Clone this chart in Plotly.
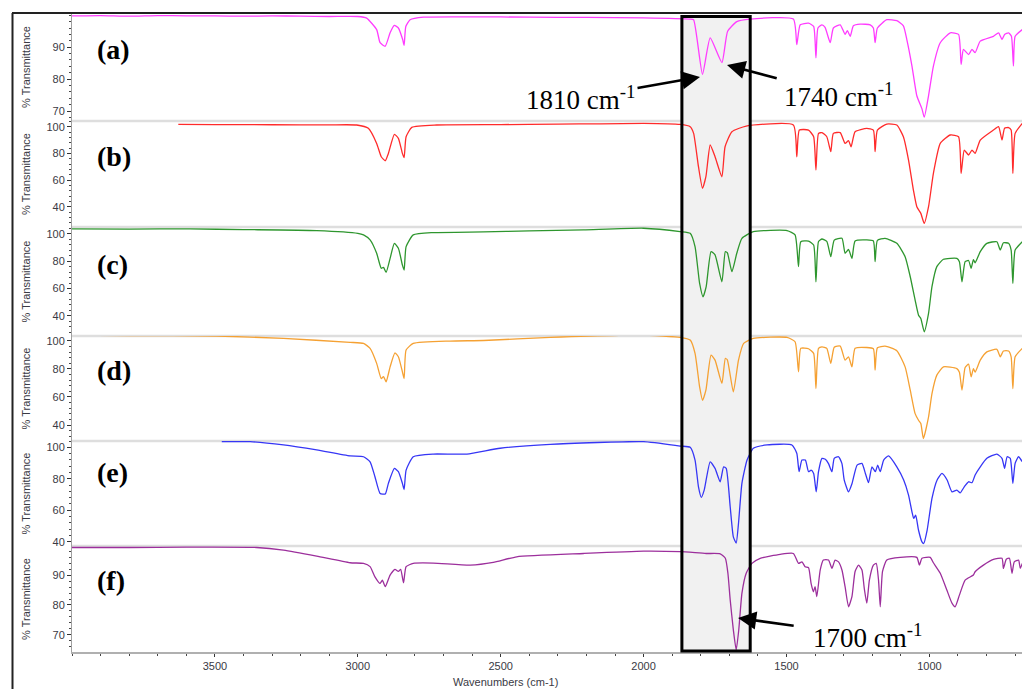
import plotly.graph_objects as go

# ---------------- data (wavenumber cm-1, % transmittance) ----------------
wn_a = [4000, 3900, 3800, 3700, 3600, 3500, 3400, 3300, 3200, 3100, 3000, 2969, 2934, 2922, 2904, 2887,
        2872, 2858, 2843, 2838, 2832, 2817, 2770, 2600, 2400, 2200, 2000, 1837, 1825, 1794, 1767, 1726,
        1706, 1674, 1627, 1476, 1464, 1452, 1423, 1405, 1397, 1390, 1376, 1365, 1347, 1336, 1312, 1295,
        1287, 1277, 1266, 1242, 1207, 1196, 1190, 1182, 1149, 1114, 1091, 1079, 1061, 1044, 1026, 1018,
        1003, 986, 962, 927, 898, 889, 881, 863, 851, 840, 822, 776, 758, 746, 737, 723, 713, 706, 700, 675]
t_a = [99.8, 99.9, 99.7, 99.9, 99.8, 99.8, 99.7, 99.8, 99.7, 99.6, 99.6, 99.1, 95.5, 91.4, 90.3, 94.5,
       96.8, 96.0, 92.4, 90.6, 96.5, 98.6, 99.4, 99.5, 99.4, 99.3, 99.2, 98.8, 98.6, 81.5, 92.9, 85.2,
       95.0, 98.0, 98.8, 98.8, 90.8, 97.0, 97.5, 96.5, 86.7, 96.0, 97.0, 96.2, 91.4, 96.0, 97.0, 94.0,
       95.2, 93.4, 96.7, 97.2, 97.0, 96.0, 91.4, 96.0, 98.6, 98.3, 96.7, 92.4, 84.1, 74.8, 70.7, 68.1,
       74.8, 84.1, 91.4, 94.5, 94.0, 84.6, 89.3, 87.7, 89.3, 88.3, 91.9, 93.4, 94.5, 92.4, 94.0, 94.5,
       93.4, 84.1, 93.4, 95.5]

wn_b = [3628, 3500, 3300, 3100, 3004, 2963, 2934, 2918, 2904, 2893, 2872, 2858, 2844, 2838, 2831, 2811,
        2724, 2500, 2300, 2150, 2000, 1872, 1837, 1825, 1808, 1794, 1782, 1767, 1750, 1726, 1715, 1691,
        1641, 1476, 1464, 1455, 1423, 1405, 1397, 1388, 1376, 1359, 1345, 1336, 1312, 1295, 1283, 1274,
        1260, 1219, 1196, 1190, 1182, 1149, 1114, 1091, 1073, 1056, 1044, 1030, 1018, 1003, 986, 962,
        927, 898, 889, 878, 863, 851, 840, 822, 776, 758, 746, 737, 723, 714, 708, 700, 675]
t_b = [101.8, 101.6, 101.5, 101.4, 101.3, 98.8, 87.5, 77.5, 74.5, 80.0, 94.3, 91.3, 80.0, 76.8, 92.5, 99.5,
       101.3, 101.6, 102.0, 102.2, 102.5, 101.7, 100.0, 95.0, 70.0, 53.8, 62.5, 86.3, 77.5, 62.5, 85.0, 96.3,
       100.5, 101.3, 77.5, 97.5, 97.5, 92.5, 67.5, 95.0, 95.6, 92.5, 81.3, 95.0, 95.6, 87.5, 89.5, 85.0,
       96.3, 98.8, 97.5, 81.3, 97.5, 102.0, 101.3, 92.5, 75.0, 52.5, 40.0, 35.0, 27.5, 40.0, 65.0, 87.5,
       93.8, 92.5, 65.0, 82.5, 78.8, 82.5, 80.0, 90.0, 97.5, 100.0, 90.0, 98.8, 99.4, 97.5, 65.0, 95.0, 102.5]

wn_c = [4000, 3800, 3587, 3400, 3144, 3000, 2980, 2957, 2934, 2918, 2910, 2901, 2887, 2872, 2858, 2844,
        2838, 2831, 2806, 2736, 2560, 2400, 2210, 2000, 1872, 1837, 1820, 1804, 1792, 1781, 1764, 1750,
        1726, 1714, 1707, 1691, 1674, 1656, 1616, 1498, 1470, 1458, 1450, 1423, 1405, 1397, 1388, 1376,
        1359, 1345, 1333, 1306, 1295, 1283, 1271, 1260, 1219, 1196, 1190, 1182, 1155, 1114, 1085, 1067,
        1050, 1038, 1030, 1018, 1003, 991, 974, 951, 904, 895, 886, 875, 863, 854, 846, 840, 822, 799,
        764, 752, 741, 723, 714, 708, 700, 675]
t_c = [103.7, 103.6, 103.7, 103.2, 102.5, 100.5, 99.3, 95.6, 85.8, 74.8, 75.5, 71.8, 82.1, 93.1, 89.5, 77.2,
       73.5, 90.7, 99.3, 101.0, 101.5, 102.2, 103.0, 104.2, 101.7, 100.5, 90.7, 63.7, 53.9, 61.3, 87.0, 84.6,
       64.9, 87.0, 86.2, 72.3, 85.8, 96.8, 101.7, 102.5, 99.3, 76.0, 94.3, 94.8, 91.9, 64.9, 94.5, 96.3,
       94.5, 83.3, 95.5, 96.8, 85.8, 88.6, 82.1, 94.8, 95.6, 94.8, 79.7, 95.3, 96.8, 93.1, 83.3, 68.6,
       51.5, 40.4, 38.0, 28.2, 41.7, 61.3, 76.0, 81.4, 82.1, 79.6, 64.9, 79.7, 80.5, 74.8, 81.2, 78.8, 87.0, 93.1,
       94.3, 88.2, 93.5, 93.1, 88.2, 63.7, 88.2, 94.3]

wn_d = [4000, 3800, 3494, 3260, 3027, 2980, 2957, 2934, 2918, 2910, 2901, 2887, 2870, 2858, 2844, 2838,
        2831, 2806, 2677, 2560, 2327, 2000, 1872, 1837, 1820, 1804, 1794, 1782, 1764, 1750, 1726, 1714,
        1707, 1686, 1668, 1650, 1616, 1498, 1470, 1458, 1450, 1423, 1405, 1397, 1388, 1376, 1359, 1345,
        1333, 1312, 1295, 1283, 1271, 1260, 1219, 1196, 1190, 1182, 1155, 1114, 1085, 1067, 1050, 1038,
        1030, 1021, 1003, 991, 974, 951, 904, 895, 886, 875, 863, 854, 846, 840, 822, 799, 764, 752,
        741, 723, 714, 708, 700, 675]
t_d = [104.0, 103.7, 103.4, 101.7, 98.9, 98.1, 94.6, 83.9, 73.1, 74.5, 70.7, 81.4, 91.4, 88.6, 77.9, 73.1,
       93.4, 98.1, 99.8, 100.2, 102.4, 104.0, 102.4, 100.5, 91.0, 67.1, 57.6, 64.8, 89.8, 86.2, 69.6, 87.4,
       86.4, 63.6, 86.2, 98.1, 101.7, 102.4, 99.3, 77.9, 94.6, 94.3, 91.0, 66.0, 94.6, 95.7, 94.6, 83.9,
       95.4, 96.2, 86.2, 88.6, 81.4, 94.6, 95.2, 94.3, 79.1, 95.0, 96.2, 92.9, 81.4, 64.8, 48.1, 43.4,
       41.0, 30.3, 45.7, 62.4, 75.5, 81.4, 80.2, 77.6, 64.8, 81.0, 83.3, 74.3, 80.2, 77.6, 86.2, 92.1, 93.9, 88.6,
       92.7, 92.7, 88.6, 66.0, 88.6, 94.6]

wn_e = [3476, 3377, 3260, 3144, 3027, 2980, 2957, 2940, 2922, 2904, 2893, 2872, 2858, 2844, 2838, 2831,
        2806, 2736, 2618, 2502, 2327, 2000, 1872, 1837, 1820, 1808, 1798, 1788, 1767, 1750, 1732, 1720,
        1711, 1697, 1686, 1676, 1668, 1656, 1638, 1616, 1568, 1481, 1464, 1456, 1446, 1434, 1423, 1414,
        1405, 1396, 1388, 1376, 1364, 1353, 1341, 1333, 1318, 1306, 1298, 1283, 1271, 1253, 1236, 1224,
        1213, 1201, 1189, 1181, 1172, 1160, 1143, 1114, 1090, 1073, 1061, 1055, 1048, 1038, 1026, 1020,
        1008, 991, 973, 956, 938, 921, 904, 892, 878, 863, 851, 840, 822, 799, 764, 746, 737, 728, 717,
        708, 700, 688, 675]
t_e = [103.6, 103.6, 101.5, 98.3, 94.5, 94.0, 90.8, 81.3, 70.7, 70.3, 77.1, 86.6, 84.5, 77.1, 73.2, 85.5,
       94.0, 95.7, 95.7, 99.4, 101.9, 103.6, 100.8, 100.0, 91.9, 74.9, 68.2, 72.8, 90.8, 86.6, 78.1, 87.6,
       86.6, 62.2, 43.1, 39.2, 51.6, 77.1, 91.9, 99.4, 101.5, 101.5, 96.2, 84.5, 91.9, 91.9, 84.5, 85.5,
       83.4, 71.7, 84.5, 93.0, 92.4, 89.6, 84.5, 93.0, 94.0, 89.6, 79.2, 71.7, 76.8, 88.7, 89.8, 83.4,
       77.5, 87.6, 84.5, 88.7, 84.5, 91.9, 94.5, 87.6, 79.2, 69.6, 59.0, 54.8, 56.9, 47.3, 39.9, 38.9,
       47.3, 67.5, 79.2, 83.4, 79.2, 71.7, 72.8, 71.1, 74.9, 78.1, 77.5, 82.4, 87.6, 93.0, 95.7, 93.0, 86.6, 94.0, 92.9,
       77.1, 89.8, 94.0, 90.8]

wn_f = [4000, 3800, 3600, 3354, 3260, 3144, 3027, 2980, 2957, 2940, 2922, 2914, 2904, 2887, 2870, 2858,
        2850, 2840, 2831, 2806, 2736, 2607, 2526, 2444, 2210, 2000, 1872, 1781, 1732, 1714, 1705, 1697,
        1686, 1676, 1667, 1656, 1641, 1621, 1592, 1522, 1476, 1458, 1446, 1435, 1423, 1414, 1406, 1400,
        1394, 1382, 1371, 1353, 1341, 1330, 1318, 1306, 1295, 1283, 1271, 1260, 1248, 1236, 1228, 1219,
        1210, 1196, 1186, 1178, 1172, 1164, 1149, 1102, 1044, 1035, 1026, 997, 986, 962, 939, 921, 910,
        895, 875, 846, 840, 811, 776, 746, 741, 731, 720, 711, 703, 688, 682, 675]
t_f = [99.2, 99.2, 99.3, 99.2, 98.3, 96.3, 94.1, 93.9, 92.8, 89.4, 87.2, 88.3, 86.1, 90.0, 91.9, 91.2,
       91.9, 87.4, 92.8, 93.9, 94.0, 93.3, 94.2, 96.1, 97.2, 98.0, 97.8, 97.2, 97.1, 95.6, 90.6, 81.7,
       71.7, 65.0, 71.7, 83.9, 90.6, 93.9, 95.6, 96.9, 97.2, 93.9, 94.4, 92.8, 92.5, 87.2, 84.4, 86.1,
       82.8, 91.7, 95.0, 95.0, 92.2, 95.0, 94.4, 91.7, 86.1, 79.4, 82.8, 91.2, 93.3, 91.7, 85.6, 80.6,
       88.3, 93.3, 93.9, 88.3, 79.4, 91.2, 95.0, 95.9, 95.9, 93.3, 95.6, 95.9, 94.1, 90.6, 85.0, 80.6, 79.4,
       83.3, 88.3, 90.0, 91.1, 93.3, 95.2, 95.6, 92.2, 95.3, 95.6, 90.6, 94.4, 95.0, 92.2, 93.9]

labels = ["(a)", "(b)", "(c)", "(d)", "(e)", "(f)"]
series_wn = [wn_a, wn_b, wn_c, wn_d, wn_e, wn_f]
series_t = [t_a, t_b, t_c, t_d, t_e, t_f]
colors = ["#ff3cff", "#ff2b2b", "#2e962e", "#f5a133", "#3636f5", "#9c2f9c"]
y_ranges = [[66.9, 100.7], [24.8, 104.3], [25.1, 105.1], [28.6, 103.4], [37.3, 104.0], [64.3, 99.7]]
y_ticks = [[70, 80, 90], [40, 60, 80, 100], [40, 60, 80, 100], [40, 60, 80, 100], [40, 60, 80, 100], [70, 80, 90]]
minor_dt = [2, 4, 4, 4, 4, 2]
x_ticks = [3500, 3000, 2500, 2000, 1500, 1000]
annot_texts = ["1810 cm<sup>-1</sup>", "1740 cm<sup>-1</sup>", "1700 cm<sup>-1</sup>"]

# ---------------- layout geometry (pixels) ----------------
W, H = 1022, 689
L, T, B = 72, 13, 37
PW, PH = W - L, H - T - B
bounds_px = [(13, 121), (121, 227), (227, 336), (336, 441), (441, 546), (546, 652)]


def px(x):
    return (x - L) / PW


def py(y):
    return (H - B - y) / PH


fig = go.Figure()
layout = dict(width=W, height=H, margin=dict(l=L, r=0, t=T, b=B),
              paper_bgcolor="white", plot_bgcolor="white", showlegend=False)

sans = "Arial, Liberation Sans, sans-serif"
tick_font = dict(family=sans, size=11, color="#3a3a44")
annotations = []
shapes = []

for i in range(6):
    n = i + 1
    yname = "y" if n == 1 else f"y{n}"
    ykey = "yaxis" if n == 1 else f"yaxis{n}"
    top, bot = bounds_px[i]
    # standoff chosen so every title sits near x = 25 px
    standoff = 19 if y_ticks[i][-1] < 100 else 13
    layout[ykey] = dict(domain=[py(bot), py(top)], range=y_ranges[i], anchor="x",
                        tickmode="array", tickvals=y_ticks[i], ticks="outside", ticklen=4,
                        tickcolor="#333", tickfont=tick_font, showgrid=False, zeroline=False,
                        showline=True, linecolor="#a0a0a0", linewidth=1, automargin=False,
                        title=dict(text="% Transmittance", standoff=standoff,
                                   font=dict(family=sans, size=11, color="#3a3a44")),
                        minor=dict(tick0=0, dtick=minor_dt[i], ticks="outside", ticklen=2,
                                   tickcolor="#444", showgrid=False))
    fig.add_trace(go.Scatter(x=series_wn[i], y=series_t[i], mode="lines", xaxis="x", yaxis=yname,
                             line=dict(color=colors[i], width=1.3, shape="spline", smoothing=0.5),
                             hoverinfo="skip"))
    # panel label
    label_y = [50, 156, 264, 370, 473, 580][i]
    annotations.append(dict(text=labels[i], x=px(95), y=py(label_y), xref="paper",
                            yref="paper", xanchor="left", yanchor="middle", showarrow=False,
                            font=dict(family="Times New Roman, Liberation Serif, serif", size=28,
                                      color="black", weight="bold")))
    # separator lines
    if i < 5:
        shapes.append(dict(type="line", xref="paper", yref="paper", x0=0, x1=1, y0=py(bot), y1=py(bot),
                           line=dict(color="#dedede", width=2.5), layer="below"))

layout["xaxis"] = dict(range=[4000, 676], anchor="y6", tickmode="array", tickvals=x_ticks,
                       ticks="outside", ticklen=3, tickcolor="#333", tickfont=tick_font,
                       showgrid=False, zeroline=False, showline=True, linecolor="#b0b0b0", linewidth=2,
                       minor=dict(tick0=0, dtick=100, ticks="outside", ticklen=2, tickcolor="#444"))

annotations.append(dict(text="Wavenumbers (cm-1)", x=px(505), y=py(682), xref="paper", yref="paper",
                        xanchor="center", yanchor="middle", showarrow=False,
                        font=dict(family=sans, size=11, color="#3a3a44")))

# highlighted region (1866 - 1627 cm-1)
shapes.append(dict(type="rect", xref="x", yref="paper", x0=1866, x1=1627, y0=py(651), y1=py(16.5),
                   fillcolor="#f1f1f1", line=dict(width=0), layer="below"))
shapes.append(dict(type="rect", xref="x", yref="paper", x0=1866, x1=1627, y0=py(651), y1=py(16.5),
                   fillcolor="rgba(0,0,0,0)", line=dict(color="black", width=3), layer="above"))

# outer frame (top and left)
shapes.append(dict(type="line", xref="paper", yref="paper", x0=px(12), x1=1.0, y0=py(13), y1=py(13),
                   line=dict(color="#222", width=2)))
shapes.append(dict(type="line", xref="paper", yref="paper", x0=px(12.5), x1=px(12.5), y0=py(13), y1=py(689),
                   line=dict(color="#222", width=2)))

# peak annotations: text with arrows (arrow head pixel position, text centre pixel position, tail gap)
serif = dict(family="Times New Roman, Liberation Serif, serif", size=27, color="black")
heads = [(700, 77), (727, 65), (738, 618)]
centres = [(581, 98), (839, 95), (868, 636)]
gaps = [0, 6, 18]
for txt, (hx, hy), (cx, cy), g in zip(annot_texts, heads, centres, gaps):
    annotations.append(dict(text=txt, x=px(hx), y=py(hy), xref="paper", yref="paper", showarrow=True,
                            ax=cx - hx, ay=cy - hy, font=serif, arrowhead=2, arrowsize=1.4,
                            arrowwidth=2.6, arrowcolor="black", standoff=0, startstandoff=g))

layout["annotations"] = annotations
layout["shapes"] = shapes
fig.update_layout(**layout)

fig.write_html("out.html")
